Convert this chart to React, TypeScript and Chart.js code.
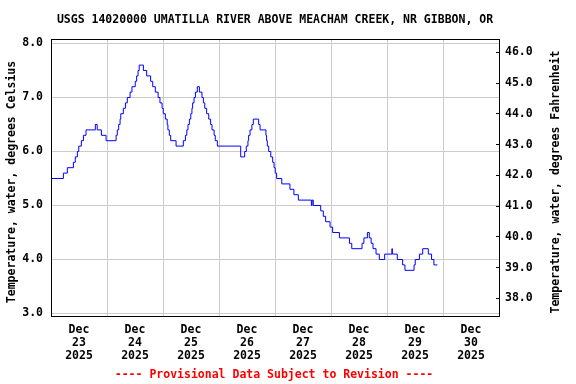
import React, { useEffect, useRef } from "react";
import { Chart, registerables } from "chart.js";

Chart.register(...registerables);

const TITLE = "USGS 14020000 UMATILLA RIVER ABOVE MEACHAM CREEK, NR GIBBON, OR";
const FOOTER = "---- Provisional Data Subject to Revision ----";
const LEFT_TITLE = "Temperature, water, degrees Celsius";
const RIGHT_TITLE = "Temperature, water, degrees Fahrenheit";

const monthLabel = "Dec";
const yearLabel = "2025";
const dayLabels = ["23", "24", "25", "26", "27", "28", "29", "30"];
const xTickHours = [0, 12, 24, 36, 48, 60, 72, 84, 96, 108, 120, 132, 144, 156, 168, 180, 192];
const celsiusTicks = [3, 4, 5, 6, 7, 8];
const fahrenheitTicks = [38, 39, 40, 41, 42, 43, 44, 45, 46];

// hours since Dec 23 00:00 where the reading changes, and the new reading (deg C)
const changeHours = [
  0, 5.3, 7.0, 9.6, 10.4, 11.3, 11.9, 13.0, 13.9, 15.0, 19.0, 19.8, 21.6, 23.6,
  27.9, 28.4, 29.0, 29.6, 29.9, 31.0, 31.9, 32.7, 33.9, 34.7, 36.1, 36.7, 37.3, 37.8,
  39.6, 41.0, 42.7, 43.6, 44.7, 45.9, 46.7, 47.6, 48.1, 49.0, 49.8, 50.1, 50.7, 51.3,
  53.6, 56.7, 57.6, 58.2, 58.7, 59.3, 59.9, 60.4, 60.7, 61.3, 61.9, 62.7, 63.6, 64.7,
  65.3, 65.9, 66.7, 67.6, 68.4, 69.0, 69.9, 70.4, 71.3, 81.3, 83.0, 83.7, 84.4, 84.7,
  85.3, 86.1, 86.7, 89.0, 89.6, 92.1, 92.4, 92.7, 93.3, 94.2, 95.0, 95.6, 96.1, 96.7,
  98.9, 102.4, 104.1, 106.0, 111.6, 111.9, 112.4, 115.6, 116.7, 117.7, 119.6, 120.7,
  123.6, 127.9, 128.9, 133.3, 134.1, 135.6, 136.4, 137.2, 138.0, 139.3, 140.7, 143.0,
  146.1, 146.3, 148.4, 150.7, 151.7, 155.6, 156.1, 157.9, 159.3, 161.7, 163.1, 164.1,
];
const changeTemps = [
  5.5, 5.6, 5.7, 5.8, 5.9, 6.0, 6.1, 6.2, 6.3, 6.4, 6.5, 6.4, 6.3, 6.2,
  6.3, 6.4, 6.5, 6.6, 6.7, 6.8, 6.9, 7.0, 7.1, 7.2, 7.3, 7.4, 7.5, 7.6,
  7.5, 7.4, 7.3, 7.2, 7.1, 7.0, 6.9, 6.8, 6.7, 6.6, 6.5, 6.4, 6.3, 6.2,
  6.1, 6.2, 6.3, 6.4, 6.5, 6.6, 6.7, 6.8, 6.9, 7.0, 7.1, 7.2, 7.1, 7.0,
  6.9, 6.8, 6.7, 6.6, 6.5, 6.4, 6.3, 6.2, 6.1, 5.9, 6.0, 6.1, 6.2, 6.3,
  6.4, 6.5, 6.6, 6.5, 6.4, 6.3, 6.2, 6.1, 6.0, 5.9, 5.8, 5.7, 5.6, 5.5,
  5.4, 5.3, 5.2, 5.1, 5.0, 5.1, 5.0, 4.9, 4.8, 4.7, 4.6, 4.5,
  4.4, 4.3, 4.2, 4.3, 4.4, 4.5, 4.4, 4.3, 4.2, 4.1, 4.0, 4.1,
  4.2, 4.1, 4.0, 3.9, 3.8, 3.9, 4.0, 4.1, 4.2, 4.1, 4.0, 3.9,
];
const lastHour = 165.6;

const FONT_FAMILY = '"DejaVu Sans Mono", monospace';
const FONT_SIZE = 11.5;

const overlayPlugin = {
  id: "usgsOverlay",
  afterDraw(chart: any) {
    const ctx = chart.ctx as CanvasRenderingContext2D;
    const area = chart.chartArea;
    ctx.save();
    // frame
    ctx.strokeStyle = "#000000";
    ctx.lineWidth = 1;
    ctx.strokeRect(area.left + 0.5, area.top + 0.5, area.right - area.left, area.bottom - area.top);
    // right-axis tick marks (inward)
    const y2 = chart.scales.y2;
    ctx.beginPath();
    for (const t of y2.ticks) {
      const py = Math.floor(y2.getPixelForValue(t.value)) + 0.5;
      ctx.moveTo(area.right - 3, py);
      ctx.lineTo(area.right + 0.5, py);
    }
    ctx.stroke();

    ctx.font = `bold ${FONT_SIZE}px ${FONT_FAMILY}`;
    ctx.textAlign = "center";
    ctx.textBaseline = "middle";
    ctx.fillStyle = "#000000";
    const cx = (area.left + area.right) / 2;
    ctx.fillText(TITLE, cx, 20);
    ctx.fillStyle = "#ff0000";
    ctx.fillText(FOOTER, cx - 1, 375);
    ctx.fillStyle = "#000000";
    const cy = 182;
    ctx.save();
    ctx.translate(12, cy);
    ctx.rotate(-Math.PI / 2);
    ctx.fillText(LEFT_TITLE, 0, 0);
    ctx.restore();
    ctx.save();
    ctx.translate(556, cy);
    ctx.rotate(-Math.PI / 2);
    ctx.fillText(RIGHT_TITLE, 0, 0);
    ctx.restore();
    ctx.restore();
  },
};

export default function App() {
  const canvasRef = useRef<HTMLCanvasElement | null>(null);

  useEffect(() => {
    const canvas = canvasRef.current;
    if (!canvas) return;
    const points = changeHours.map((h, i) => ({ x: h, y: changeTemps[i] }));
    points.push({ x: lastHour, y: changeTemps[changeTemps.length - 1] });

    const tickFont = { family: FONT_FAMILY, size: FONT_SIZE, weight: "bold" as const, lineHeight: 13 / FONT_SIZE };

    const chart = new Chart(canvas, {
      type: "line",
      data: {
        datasets: [
          {
            data: points,
            borderColor: "#0000ff",
            borderWidth: 1,
            pointRadius: 0,
            stepped: "before",
            fill: false,
          },
        ],
      },
      options: {
        responsive: false,
        animation: false,
        devicePixelRatio: 1,
        layout: { padding: { top: 39, left: 0, right: 0, bottom: 0 } },
        plugins: {
          legend: { display: false },
          title: { display: false },
          tooltip: { enabled: false },
        },
        scales: {
          x: {
            type: "linear",
            position: "bottom",
            min: 0,
            max: 192,
            afterBuildTicks: (s: any) => {
              s.ticks = xTickHours.map((v) => ({ value: v }));
            },
            afterFit: (s: any) => {
              s.height = 68;
            },
            grid: {
              color: (c: any) => (c.tick && c.tick.value % 24 === 0 ? "#cccccc" : "rgba(0,0,0,0)"),
              drawTicks: false,
              lineWidth: 1,
            },
            border: { display: false },
            ticks: {
              autoSkip: false,
              maxRotation: 0,
              minRotation: 0,
              padding: 7.5,
              color: "#000000",
              font: tickFont,
              callback: (value: any) => {
                const v = Number(value);
                if (v % 24 === 12) {
                  const i = (v - 12) / 24;
                  return [monthLabel, dayLabels[i], yearLabel];
                }
                return "";
              },
            },
          },
          y: {
            type: "linear",
            position: "left",
            min: 8.0833 - 277 / 54,
            max: 8.0833,
            afterBuildTicks: (s: any) => {
              s.ticks = celsiusTicks.map((v) => ({ value: v }));
            },
            afterFit: (s: any) => {
              s.width = 51;
            },
            grid: { color: "#cccccc", drawTicks: false, lineWidth: 1 },
            border: { display: false },
            ticks: {
              padding: 8,
              color: "#000000",
              font: tickFont,
              callback: (value: any) => Number(value).toFixed(1),
            },
          },
          y2: {
            type: "linear",
            position: "right",
            min: 46.439 - 277 / 30.75,
            max: 46.439,
            afterBuildTicks: (s: any) => {
              s.ticks = fahrenheitTicks.map((v) => ({ value: v }));
            },
            afterFit: (s: any) => {
              s.width = 77;
            },
            grid: { display: false, drawTicks: false },
            border: { display: false },
            ticks: {
              padding: 6,
              color: "#000000",
              font: tickFont,
              callback: (value: any) => Number(value).toFixed(1),
            },
          },
        },
      },
      plugins: [overlayPlugin],
    });
    return () => chart.destroy();
  }, []);

  return (
    <div style={{ position: "fixed", left: 0, top: 0, width: 576, height: 384, background: "#ffffff" }}>
      <canvas ref={canvasRef} width={576} height={384} style={{ display: "block", width: 576, height: 384 }} />
    </div>
  );
}
